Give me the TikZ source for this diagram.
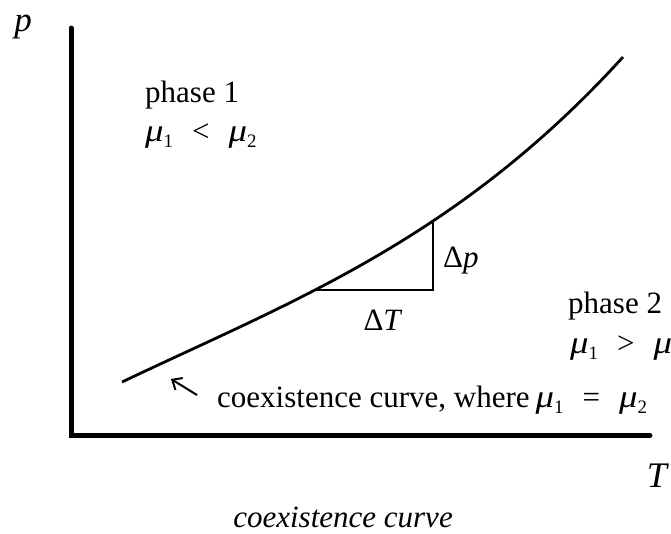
\documentclass[tikz,border=0pt]{standalone}
\usepackage{fontspec}
\setmainfont{Liberation Serif}
\usetikzlibrary{arrows.meta}
\newcommand{\chem}[1]{{\fontsize{32}{36}\selectfont\textit{\scalebox{1.15}[1]{μ}}}\raisebox{-0.2em}{\fontsize{19}{19}\selectfont #1}}
\newcommand{\rel}[1]{\hspace{19pt}#1\hspace{19pt}}

\begin{document}
\begin{tikzpicture}[x=1pt,y=-1pt,font=\fontsize{31}{36}\selectfont,inner sep=0pt,
    declare function={sa(\t)=(\t-122)/100; sb(\t)=(\t-315)/100; sc(\t)=(\t-433)/100;}]
  \useasboundingbox (0,0) rectangle (671,533);
  % axes
  \coordinate (top) at (71,28);
  \coordinate (O) at (71,435.5);
  \coordinate (right) at (650,435.5);
  \draw[line width=5pt,line cap=round] (top) -- (O) -- (right);
  \node[anchor=base,font=\fontsize{35}{40}\selectfont] (p) at (23,31) {\textit{p}};
  \node[anchor=base,font=\fontsize{36}{40}\selectfont] (T) at (658,487) {\textit{T}};
  % coexistence curve
  \draw[line width=2.8pt] plot[domain=122:623,samples=100]
    (\x,{382-47.668*sa(\x)-3.4749*sa(\x)*sb(\x)-1.11066*sa(\x)*sb(\x)*sc(\x)});
  \coordinate (A) at (315,290);
  \coordinate (B) at (433,290);
  \coordinate (C) at (433,221);
  \draw[line width=2.8pt] (A) -- (B) -- (C);
  \node[anchor=base west] (dp) at (443,267) {Δ\textit{p}};
  \node[anchor=base] (dT) at (383,330) {Δ\textit{T}};
  % phases
  \node[anchor=base west] (ph1) at (145,102) {phase 1};
  \node[anchor=base west] (mu1) at (145,141) {\chem{1}\rel{<}\chem{2}};
  \node[anchor=base west] (ph2) at (568,313) {phase 2};
  \node[anchor=base west] (mu2) at (570,353) {\chem{1}\rel{>}\chem{2}};
  \node[anchor=base west] (co) at (217,407)
    {coexistence curve, where\hspace{6pt}\chem{1}\rel{=}\chem{2}};
  \coordinate (tail) at (197,395);
  \coordinate (tip) at (171,379);
  \draw[-{Straight Barb[length=8pt,width=14pt]},line width=2pt] (tail) -- (tip);
  \node[anchor=base,font=\fontsize{31}{36}\selectfont] (cap) at (343,527) {\textit{coexistence curve}};
\end{tikzpicture}
\end{document}
